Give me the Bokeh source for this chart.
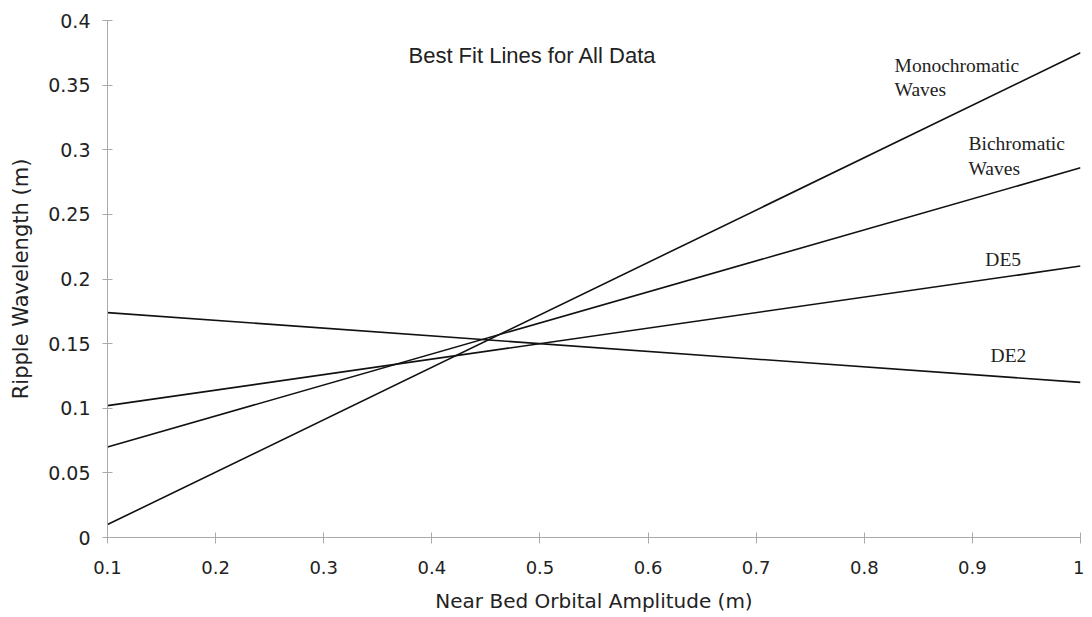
from bokeh.plotting import figure
from bokeh.models import Range1d, FixedTicker, Label
from bokeh.embed import file_html
from bokeh.resources import INLINE

x_ends = [0.1, 1.0]
mono = [0.010, 0.375]
bichro = [0.070, 0.286]
de5 = [0.102, 0.210]
de2 = [0.174, 0.120]

y_ticks = [0, 0.05, 0.1, 0.15, 0.2, 0.25, 0.3, 0.35, 0.4]
y_labels = ["0", "0.05", "0.1", "0.15", "0.2", "0.25", "0.3", "0.35", "0.4"]
x_ticks = [0.1, 0.2, 0.3, 0.4, 0.5, 0.6, 0.7, 0.8, 0.9, 1.0]
x_labels = ["0.1", "0.2", "0.3", "0.4", "0.5", "0.6", "0.7", "0.8", "0.9", "1"]

p = figure(width=1084, height=617, output_backend="svg", toolbar_location=None,
           x_range=Range1d(0.1, 1.0), y_range=Range1d(0, 0.4),
           min_border_left=107, min_border_right=4, min_border_top=20, min_border_bottom=80)
p.outline_line_color = None
p.xgrid.visible = False
p.ygrid.visible = False

axis_color = "#aaaaaa"
wide = "DejaVu Sans"
font = "Liberation Sans"

p.yaxis.ticker = FixedTicker(ticks=y_ticks)
p.yaxis.major_label_overrides = {t: l for t, l in zip(y_ticks, y_labels)}
p.xaxis.ticker = FixedTicker(ticks=x_ticks)
p.xaxis.major_label_overrides = {t: l for t, l in zip(x_ticks, x_labels)}

for ax in (p.xaxis, p.yaxis):
    ax.axis_line_color = axis_color
    ax.major_tick_line_color = axis_color
    ax.minor_tick_line_color = None
    ax.major_label_text_color = "#222222"
    ax.axis_label_text_font_style = "normal"
    ax.axis_label_text_color = "#222222"
    ax.major_label_text_font = wide
    ax.axis_label_text_font = wide

p.yaxis.major_label_text_font_size = "19px"
p.yaxis.axis_label_text_font_size = "21px"
p.yaxis.major_tick_out = 5
p.yaxis.major_tick_in = 5
p.yaxis.major_label_standoff = 12
p.yaxis.axis_label = "Ripple Wavelength (m)"
p.yaxis.axis_label_standoff = 12

p.xaxis.major_label_text_font_size = "18px"
p.xaxis.axis_label_text_font_size = "20px"
p.xaxis.major_tick_out = 6
p.xaxis.major_tick_in = 5
p.xaxis.major_label_standoff = 17
p.xaxis.axis_label = "Near Bed Orbital Amplitude (m)"
p.xaxis.axis_label_standoff = 12

for ys in (mono, bichro, de5, de2):
    p.line(x_ends, ys, line_color="#111111", line_width=1.6)

serif = "Liberation Serif"
labels = [
    (0.828, 0.365, "Monochromatic"),
    (0.828, 0.3466, "Waves"),
    (0.8964, 0.3048, "Bichromatic"),
    (0.8964, 0.2855, "Waves"),
    (0.912, 0.215, "DE5"),
    (0.9168, 0.1408, "DE2"),
]
for lx, ly, t in labels:
    p.add_layout(Label(x=lx, y=ly, text=t, text_font=serif, text_font_size="19.5px",
                       text_color="#222222", text_baseline="middle", text_align="left"))

p.add_layout(Label(x=0.3784, y=0.373, text="Best Fit Lines for All Data", text_font=font,
                   text_font_size="22px", text_color="#222222", text_baseline="middle",
                   text_align="left"))

open("out.html", "w").write(file_html(p, INLINE))
